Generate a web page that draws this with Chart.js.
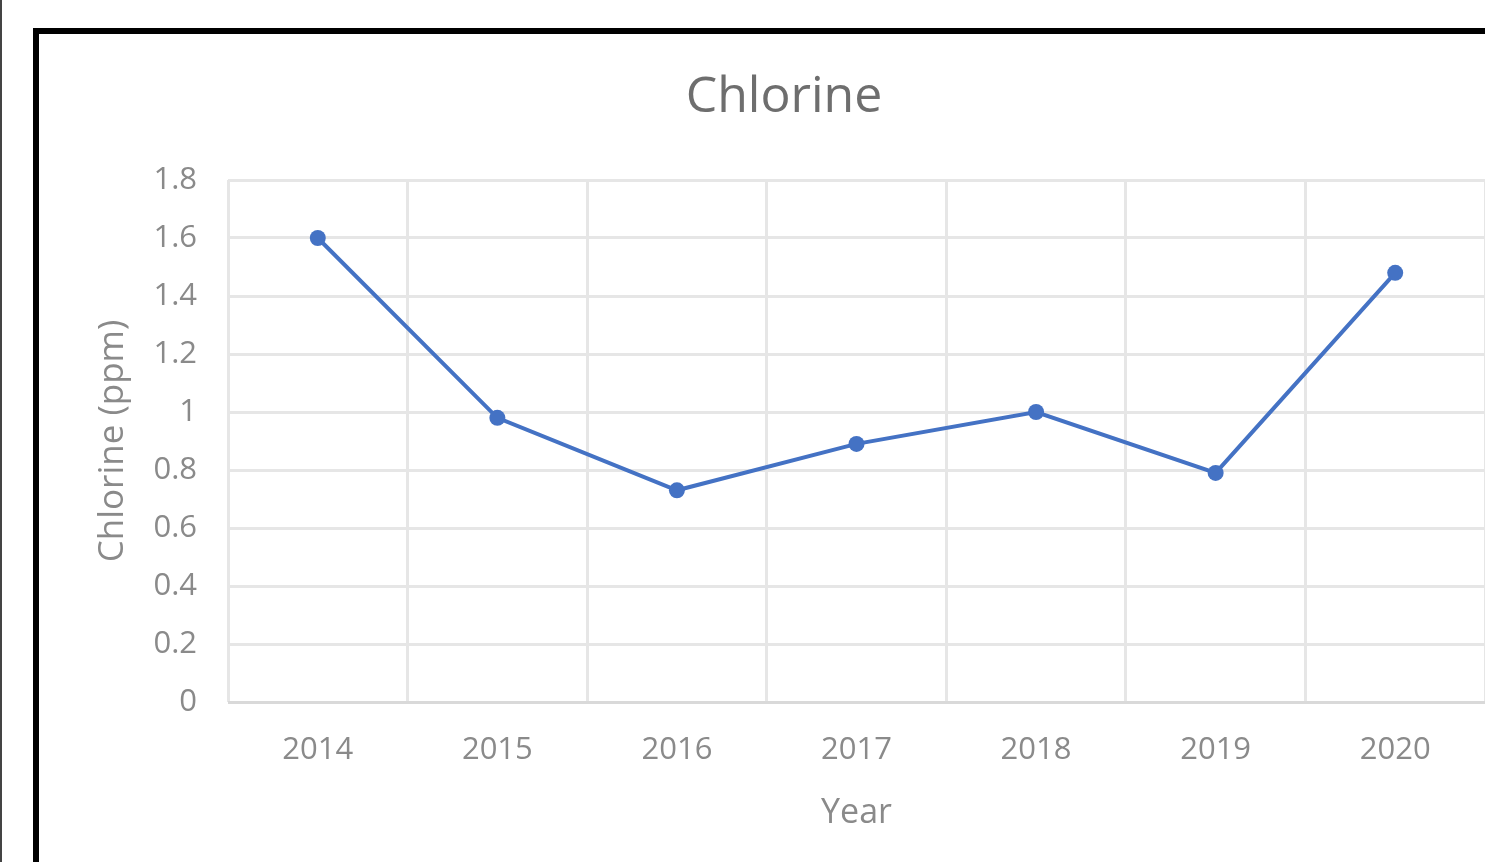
<!DOCTYPE html>
<html>
<head>
<meta charset="utf-8">
<script src="https://cdn.jsdelivr.net/npm/chart.js@4.4.1/dist/chart.umd.min.js"></script>
<style>
  html, body { margin: 0; padding: 0; background: #fff; overflow: hidden; width: 1485px; height: 862px; }
  #wrap { position: absolute; left: 0; top: 0; width: 1485px; height: 862px; }
  canvas { position: absolute; left: 0; top: 0; }
  .edge { position: absolute; background: #000; }
</style>
</head>
<body>
<div id="wrap">
  <canvas id="c" width="1485" height="862"></canvas>
  <div class="edge" style="left:0;top:0;width:2px;height:862px;background:#444;"></div>
  <div class="edge" style="left:33px;top:28px;width:6px;height:834px;"></div>
  <div class="edge" style="left:33px;top:28px;width:1452px;height:6px;"></div>
</div>
<script>
const chartTitle = 'Chlorine';
const xAxisTitle = 'Year';
const yAxisTitle = 'Chlorine (ppm)';
const years = ['2014', '2015', '2016', '2017', '2018', '2019', '2020'];
const chlorine = [1.6, 0.98, 0.73, 0.89, 1.0, 0.79, 1.48];
const yTickValues = [0, 0.2, 0.4, 0.6, 0.8, 1, 1.2, 1.4, 1.6, 1.8];
const yTickLabels = ['0', '0.2', '0.4', '0.6', '0.8', '1', '1.2', '1.4', '1.6', '1.8'];

const FONT = '"Open Sans", "Noto Sans", sans-serif';
const textGray = '#8a8a8a';

const titlePlugin = {
  id: 'offsetTitle',
  afterDraw(chart) {
    const ctx = chart.ctx;
    ctx.save();
    ctx.font = '50px ' + FONT;
    ctx.fillStyle = '#6e6e6e';
    ctx.textAlign = 'center';
    ctx.textBaseline = 'middle';
    ctx.fillText(chartTitle, 784, 98);
    ctx.restore();
  }
};

new Chart(document.getElementById('c'), {
  type: 'line',
  data: {
    labels: years,
    datasets: [{
      label: yAxisTitle,
      data: chlorine,
      borderColor: '#4472C4',
      backgroundColor: '#4472C4',
      borderWidth: 4,
      pointRadius: 8,
      pointHoverRadius: 8,
      pointBorderWidth: 0,
      tension: 0,
      fill: false
    }]
  },
  options: {
    responsive: false,
    animation: false,
    layout: { autoPadding: false, padding: { top: 180, right: 0, bottom: 0, left: 0 } },
    plugins: {
      legend: { display: false },
      title: { display: false },
      tooltip: { enabled: false }
    },
    scales: {
      x: {
        type: 'category',
        offset: true,
        grid: { offset: true, color: '#e6e6e6', lineWidth: 3, drawTicks: false },
        border: { display: false },
        ticks: { color: textGray, font: { family: FONT, size: 31 }, padding: 30, maxRotation: 0 },
        title: { display: true, text: xAxisTitle, color: textGray, font: { family: FONT, size: 34 }, padding: { top: 0, bottom: 28 } },
        afterFit(s) { s.height = 160; }
      },
      y: {
        min: 0,
        max: 1.8,
        afterBuildTicks(s) { s.ticks = yTickValues.map(v => ({ value: v })); },
        grid: {
          color: ctx => (ctx.tick && ctx.tick.value === 0) ? '#d9d9d9' : '#e6e6e6',
          lineWidth: 3,
          drawTicks: false
        },
        border: { display: false },
        ticks: {
          color: textGray,
          font: { family: FONT, size: 31 },
          padding: 31,
          callback: (v, i) => yTickLabels[i]
        },
        title: { display: true, text: yAxisTitle, color: textGray, font: { family: FONT, size: 35 }, padding: { top: 92, bottom: 0 } },
        afterFit(s) { s.width = 228; }
      }
    }
  },
  plugins: [titlePlugin]
});
</script>
</body>
</html>
